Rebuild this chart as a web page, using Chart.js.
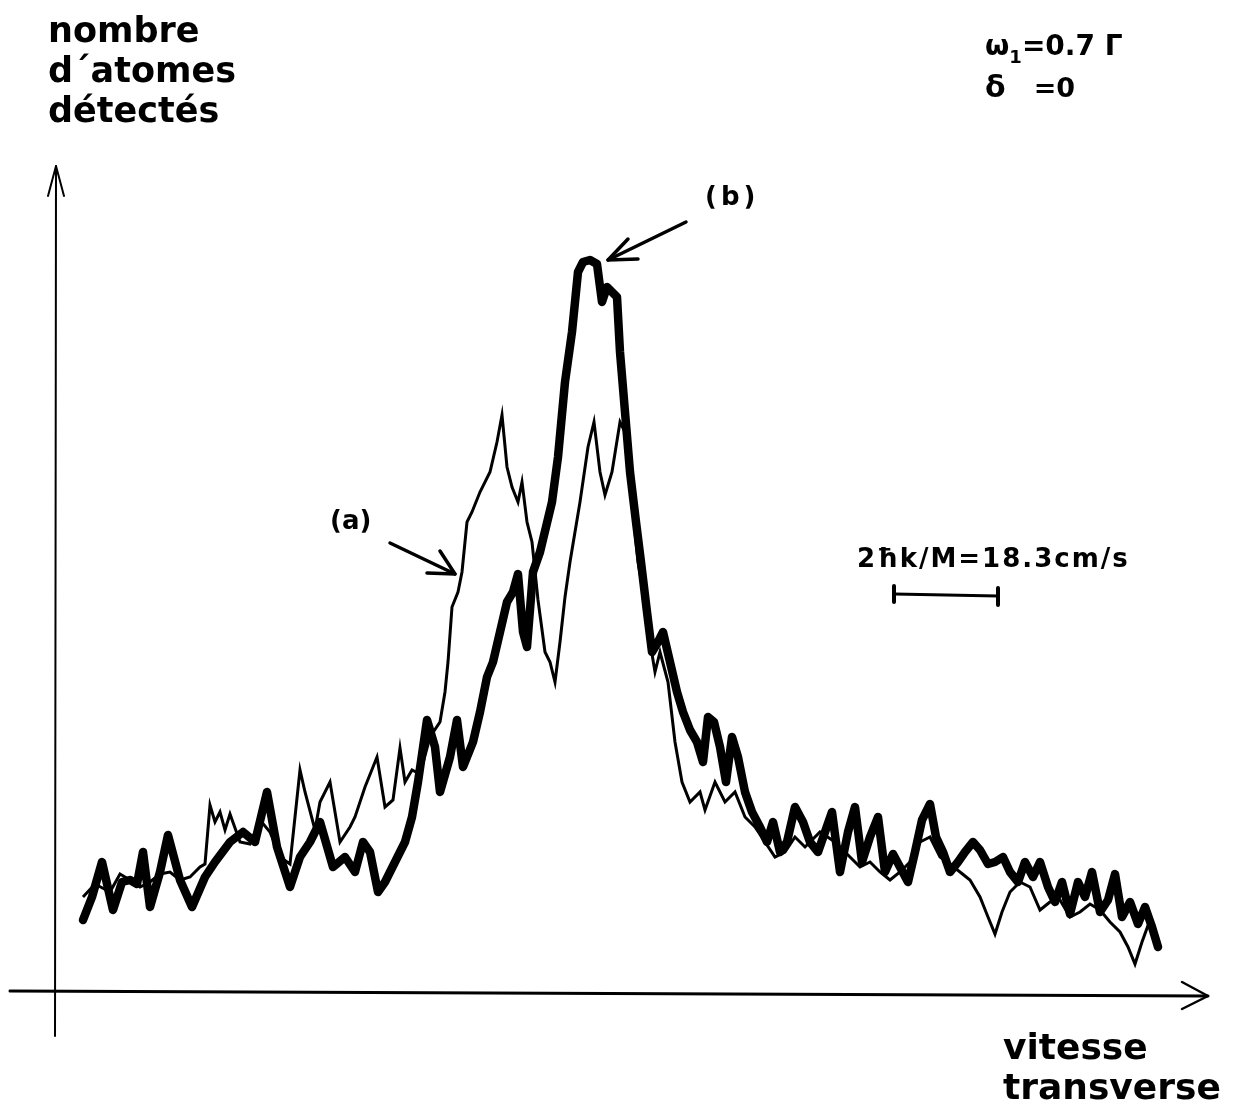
<!DOCTYPE html>
<html>
<head>
<meta charset="utf-8">
<script src="https://cdn.jsdelivr.net/npm/chart.js@4.4.0/dist/chart.umd.min.js"></script>
<style>
  html, body { margin: 0; padding: 0; background: #fff; }
  #wrap { position: relative; width: 1234px; height: 1104px; }
  .t { position: absolute; font-family: "DejaVu Sans", sans-serif; font-weight: bold; color: #000; white-space: nowrap; line-height: 1; }
</style>
</head>
<body>
<div id="wrap">
  <canvas id="c" width="1234" height="1104"></canvas>
  <div class="t" style="left:48px; top:10px; font-size:35px; line-height:40px;">nombre<br>d´atomes<br>détectés</div>
  <div class="t" style="left:985px; top:32px; font-size:28px;">ω<span style="font-size:18px; position:relative; top:8px;">1</span>=0.7 Γ</div>
  <div class="t" style="left:985px; top:72px; font-size:30px;">δ<span style="font-size:27px; margin-left:28px;">=0</span></div>
  <div class="t" style="left:705px; top:183px; font-size:26px; letter-spacing:4px;">(b)</div>
  <div class="t" style="left:330px; top:507px; font-size:26px;">(a)</div>
  <div class="t" style="left:857px; top:545px; font-size:26px; letter-spacing:2px;">2ħk/M=18.3cm/s</div>
  <div class="t" style="left:1003px; top:1027px; font-size:36px; line-height:40px;">vitesse<br>transverse</div>
</div>
<script>
// velocity positions (arbitrary units) and detected counts (arbitrary units, 0 = axis)
const xA = [83,95,110,120,130,140,150,160,170,180,190,200,205,210,215,220,225,230,240,250,260,270,280,290,300,305,315,320,330,340,350,355,365,377,385,393,400,405,412,420,430,440,445,448,452,458,462,467,472,480,490,497,502,507,512,518,522,527,532,538,545,550,555,560,565,570,580,588,594,600,605,612,620,625,630,638,645,650,655,660,668,675,682,690,700,705,715,725,735,745,755,765,775,785,795,805,820,835,850,860,870,880,890,900,910,920,930,940,950,960,970,980,988,995,1002,1010,1020,1030,1040,1050,1060,1070,1080,1090,1100,1110,1120,1128,1135,1142,1150,1158];
const yA = [95,108,100,118,112,105,110,118,120,112,115,125,128,187,170,180,162,178,150,148,172,160,135,128,222,200,162,190,210,150,165,175,205,235,185,192,244,210,222,218,255,270,300,330,385,400,420,470,480,500,520,550,577,525,505,490,510,470,450,392,340,330,310,350,395,430,490,545,570,520,497,520,570,560,510,430,390,350,320,340,310,250,210,190,200,182,210,190,200,175,165,150,135,140,155,145,160,150,135,125,130,120,112,120,130,150,155,135,128,120,112,95,75,58,80,100,110,105,82,90,92,75,80,88,82,70,60,45,28,50,72,52];
const xB = [83,92,102,113,122,130,137,143,150,160,168,180,192,205,215,230,243,255,267,277,290,300,310,320,333,345,355,363,370,378,385,395,405,412,418,427,435,440,450,457,463,473,480,487,493,500,507,513,518,523,527,533,540,546,552,558,565,572,578,583,590,597,602,607,612,617,620,625,630,636,641,647,652,658,663,670,677,683,690,697,703,708,714,720,726,732,738,745,752,760,767,773,780,787,795,803,810,818,825,832,840,848,855,862,870,878,885,893,900,908,915,922,930,936,943,950,958,965,973,980,988,995,1003,1010,1018,1025,1033,1040,1048,1055,1062,1070,1078,1085,1092,1100,1108,1115,1122,1130,1138,1145,1152,1158];
const yB = [72,95,130,82,110,112,108,140,85,120,157,112,85,115,130,150,160,150,200,145,105,135,150,170,125,135,120,150,140,100,110,130,150,175,210,272,245,200,235,272,225,250,280,315,330,360,390,400,418,360,345,420,440,465,490,535,610,660,720,730,732,728,690,705,700,695,640,580,520,470,430,380,340,350,360,330,300,280,262,250,230,275,270,245,210,255,235,200,180,165,150,170,140,150,185,170,150,140,160,180,120,160,185,130,155,175,120,138,125,110,140,172,188,155,140,120,130,140,150,142,128,130,135,120,110,130,115,130,105,90,110,78,110,95,120,80,92,118,75,90,68,85,65,45];

const axisPlugin = {
  id: 'axisDecor',
  afterDatasetsDraw(chart) {
    const ctx = chart.ctx, xs = chart.scales.x, ys = chart.scales.y;
    const X = v => xs.getPixelForValue(v), Y = v => ys.getPixelForValue(v);
    ctx.save();
    ctx.strokeStyle = '#000'; ctx.lineCap = 'round'; ctx.lineJoin = 'round';
    // y axis
    ctx.lineWidth = 2;
    ctx.beginPath(); ctx.moveTo(X(55), Y(-44)); ctx.lineTo(X(56), Y(826)); ctx.stroke();
    ctx.beginPath(); ctx.moveTo(X(48), Y(796)); ctx.lineTo(X(56), Y(826)); ctx.lineTo(X(64), Y(796)); ctx.stroke();
    // x axis
    ctx.lineWidth = 3;
    ctx.beginPath(); ctx.moveTo(X(10), Y(1)); ctx.lineTo(X(1208), Y(-4)); ctx.stroke();
    ctx.lineWidth = 2.5;
    ctx.beginPath(); ctx.moveTo(X(1182), Y(10)); ctx.lineTo(X(1208), Y(-4)); ctx.lineTo(X(1182), Y(-17)); ctx.stroke();
    // (b) arrow
    ctx.lineWidth = 3.5;
    ctx.beginPath(); ctx.moveTo(X(686), Y(770)); ctx.lineTo(X(608), Y(732)); ctx.stroke();
    ctx.beginPath(); ctx.moveTo(X(628), Y(753)); ctx.lineTo(X(608), Y(732)); ctx.lineTo(X(638), Y(733)); ctx.stroke();
    // (a) arrow
    ctx.beginPath(); ctx.moveTo(X(390), Y(449)); ctx.lineTo(X(455), Y(418)); ctx.stroke();
    ctx.beginPath(); ctx.moveTo(X(427), Y(419)); ctx.lineTo(X(455), Y(418)); ctx.lineTo(X(440), Y(441)); ctx.stroke();
    // scale bar 2hk/M
    ctx.lineWidth = 3;
    ctx.beginPath(); ctx.moveTo(X(894), Y(398)); ctx.lineTo(X(998), Y(396)); ctx.stroke();
    ctx.lineWidth = 4;
    ctx.beginPath(); ctx.moveTo(X(894), Y(406)); ctx.lineTo(X(894), Y(390)); ctx.stroke();
    ctx.beginPath(); ctx.moveTo(X(998), Y(404)); ctx.lineTo(X(998), Y(387)); ctx.stroke();
    ctx.restore();
  }
};

const toPts = (xs, ys) => xs.map((x, i) => ({x: x, y: ys[i]}));

new Chart(document.getElementById('c'), {
  type: 'line',
  data: {
    datasets: [
      { label: '(a)', data: toPts(xA, yA), borderColor: '#000', borderWidth: 3, pointRadius: 0, tension: 0, fill: false },
      { label: '(b)', data: toPts(xB, yB), borderColor: '#000', borderWidth: 8.5, pointRadius: 0, tension: 0, fill: false, borderJoinStyle: 'round', borderCapStyle: 'round' }
    ]
  },
  options: {
    responsive: false,
    animation: false,
    layout: { padding: 0 },
    plugins: { legend: { display: false }, tooltip: { enabled: false } },
    scales: {
      x: { type: 'linear', min: 0, max: 1234, display: false },
      y: { type: 'linear', min: -112, max: 992, display: false }
    }
  },
  plugins: [axisPlugin]
});
</script>
</body>
</html>
